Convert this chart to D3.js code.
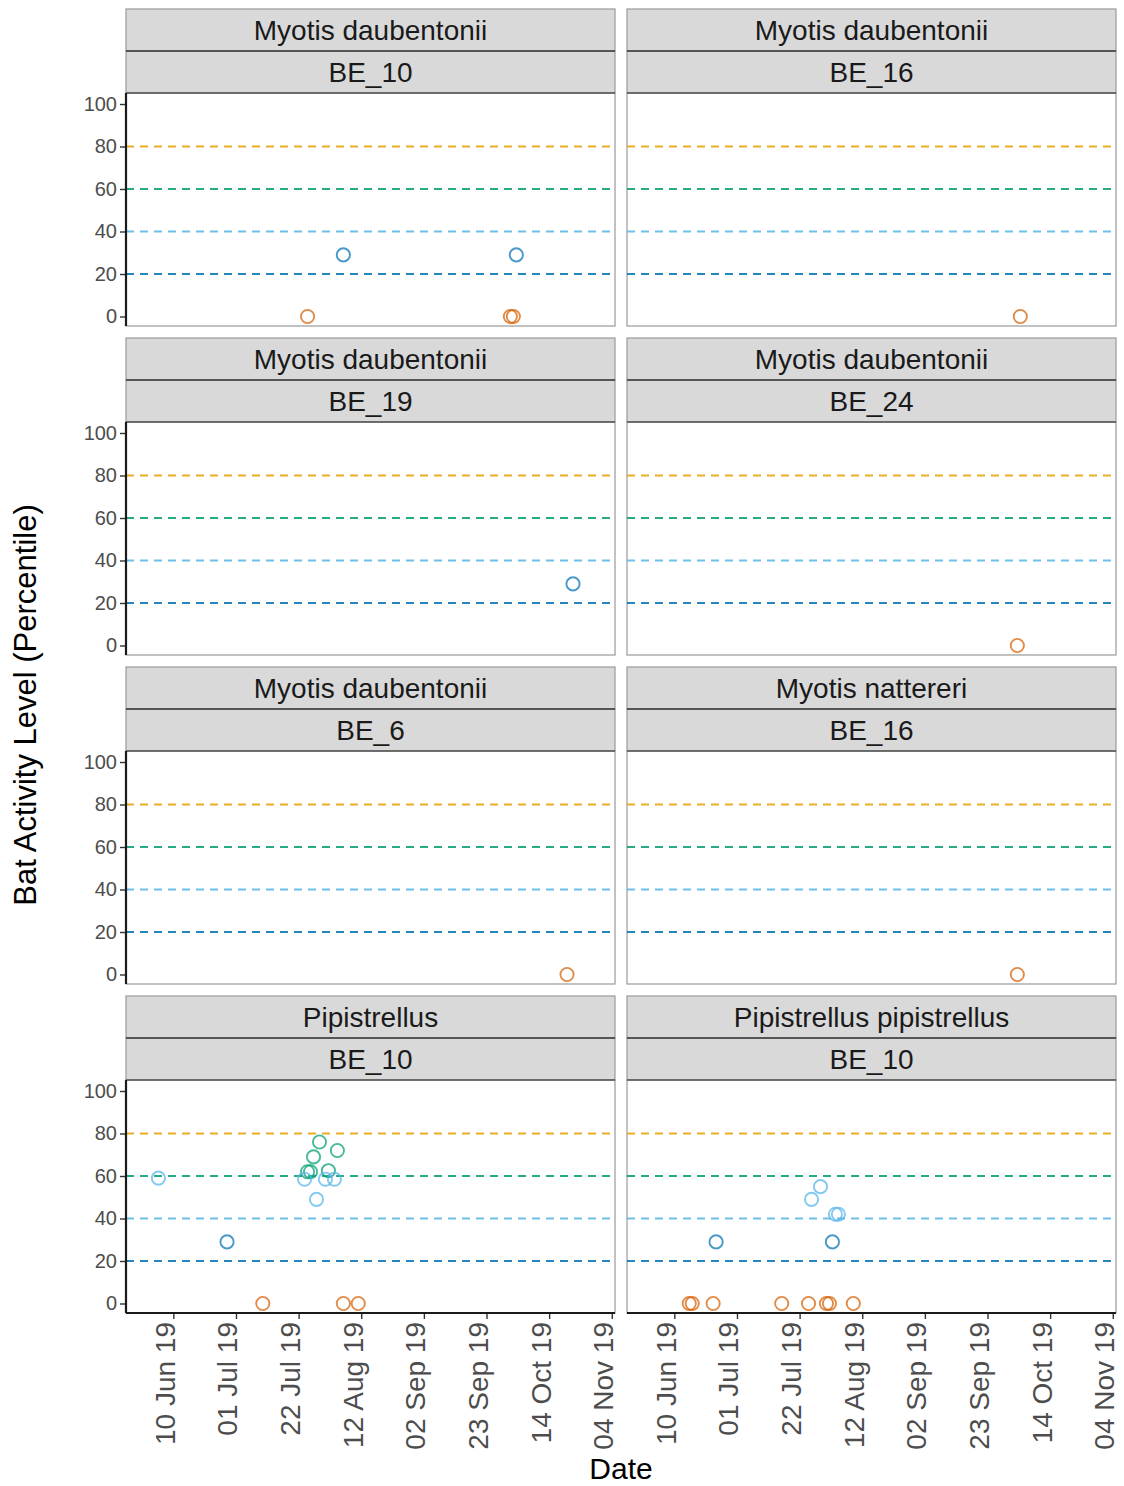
<!DOCTYPE html>
<html>
<head>
<meta charset="utf-8">
<script src="https://cdn.jsdelivr.net/npm/d3@7"></script>
<style>
  html, body { margin: 0; padding: 0; background: #fff; }
  svg { display: block; font-family: "Liberation Sans", Arial, sans-serif; }
</style>
</head>
<body>
<svg id="chart" width="1124" height="1486"></svg>
<script>
// ---------- data ----------
const panelSpecies = ["Myotis daubentonii", "Myotis daubentonii", "Myotis daubentonii", "Myotis daubentonii",
                      "Myotis daubentonii", "Myotis nattereri", "Pipistrellus", "Pipistrellus pipistrellus"];
const panelSites = ["BE_10", "BE_16", "BE_19", "BE_24", "BE_6", "BE_16", "BE_10", "BE_10"];

// points: panel index, date, activity percentile
const ptPanel = [0, 0, 0, 0, 0,
                 1,
                 2,
                 3,
                 4,
                 5,
                 6, 6, 6, 6, 6, 6, 6, 6, 6, 6, 6, 6, 6, 6, 6,
                 7, 7, 7, 7, 7, 7, 7, 7, 7, 7, 7, 7, 7, 7];
const ptDate = ["2019-07-25", "2019-08-06", "2019-10-01", "2019-10-02", "2019-10-03",
                "2019-10-04",
                "2019-10-22",
                "2019-10-03",
                "2019-10-20",
                "2019-10-03",
                "2019-06-05", "2019-06-28", "2019-07-10", "2019-08-06", "2019-08-11",
                "2019-07-29", "2019-08-04", "2019-07-27", "2019-07-25", "2019-07-26", "2019-08-01",
                "2019-07-24", "2019-07-31", "2019-08-03", "2019-07-28",
                "2019-06-15", "2019-06-16", "2019-06-23", "2019-07-16", "2019-07-25", "2019-07-31",
                "2019-08-01", "2019-08-09", "2019-06-24", "2019-08-02", "2019-07-29", "2019-07-26",
                "2019-08-03", "2019-08-04"];
const ptValue = [0, 29, 0, 0, 29,
                 0,
                 29,
                 0,
                 0,
                 0,
                 59, 29, 0, 0, 0,
                 76, 72, 69, 62, 62, 62.5,
                 58.5, 58.5, 58.5, 49,
                 0, 0, 0, 0, 0, 0,
                 0, 0, 29, 29, 55, 49,
                 42, 42];

const thresholdValues = [20, 40, 60, 80];
const thresholdColors = ["#0072B2", "#56B4E9", "#009E73", "#E69F00"];
const levelColors = ["#D55E00", "#0072B2", "#56B4E9", "#009E73", "#E69F00"];
const yTicks = [0, 20, 40, 60, 80, 100];
const xTicks = ["2019-06-10", "2019-07-01", "2019-07-22", "2019-08-12", "2019-09-02",
                "2019-09-23", "2019-10-14", "2019-11-04"];
const xDomain = ["2019-05-25T03:00", "2019-11-05T02:00"];

// ---------- layout ----------
const svg = d3.select("#chart");
const colLeft = [126, 627];
const panelW = 489;
const rowTop0 = 9, rowStep = 329, stripH = 42, panelH = 233;

const parseDay = d3.utcParse("%Y-%m-%d");
const parseDT = d3.utcParse("%Y-%m-%dT%H:%M");
const fmt = d3.utcFormat("%d %b %y");
const levelScale = d3.scaleThreshold().domain([20, 40, 60, 80]).range(levelColors);

const points = ptPanel.map((p, i) => ({ p, date: parseDay(ptDate[i]), v: ptValue[i] }));

panelSpecies.forEach((sp, idx) => {
  const col = idx % 2, row = Math.floor(idx / 2);
  const x0 = colLeft[col];
  const top = rowTop0 + row * rowStep;
  const pt = top + 2 * stripH, pb = pt + panelH;

  const x = d3.scaleUtc().domain(xDomain.map(parseDT)).range([x0, x0 + panelW]);
  const y = d3.scaleLinear().domain([0, 100]).range([pb - 9.5, pt + 11]);

  const g = svg.append("g");

  // strips
  [sp, panelSites[idx]].forEach((lab, k) => {
    const sy = top + k * stripH;
    g.append("rect").attr("x", x0).attr("y", sy).attr("width", panelW).attr("height", stripH)
      .attr("fill", "#d9d9d9").attr("stroke", "#9a9a9a").attr("stroke-width", 1.2);
    g.append("text").attr("x", x0 + panelW / 2).attr("y", sy + stripH / 2 + 10)
      .attr("text-anchor", "middle").attr("font-size", 28).attr("fill", "#1a1a1a").text(lab);
  });
  g.append("line").attr("x1", x0).attr("x2", x0 + panelW)
    .attr("y1", top + stripH).attr("y2", top + stripH)
    .attr("stroke", "#555").attr("stroke-width", 2);

  // panel background & border
  g.append("rect").attr("x", x0).attr("y", pt).attr("width", panelW).attr("height", panelH)
    .attr("fill", "#fff").attr("stroke", "#9a9a9a").attr("stroke-width", 1.2);
  g.append("line").attr("x1", x0).attr("x2", x0 + panelW).attr("y1", pt).attr("y2", pt)
    .attr("stroke", "#555").attr("stroke-width", 1.6);

  // threshold lines
  thresholdValues.forEach((t, k) => {
    g.append("line").attr("x1", x0).attr("x2", x0 + panelW)
      .attr("y1", y(t)).attr("y2", y(t))
      .attr("stroke", thresholdColors[k]).attr("stroke-width", 2.1)
      .attr("stroke-dasharray", "8,6").attr("opacity", 0.85);
  });

  // points
  g.selectAll("circle.pt").data(points.filter(d => d.p === idx)).join("circle")
    .attr("class", "pt")
    .attr("cx", d => x(d.date)).attr("cy", d => y(d.v)).attr("r", 6.6)
    .attr("fill", "none").attr("stroke", d => levelScale(d.v))
    .attr("stroke-width", 1.9).attr("stroke-opacity", 0.72);

  // y axis (left column)
  if (col === 0) {
    const ya = g.append("g").attr("transform", `translate(${x0},0)`)
      .call(d3.axisLeft(y).tickValues(yTicks).tickSize(6).tickPadding(3));
    ya.select(".domain").remove();
    ya.selectAll(".tick line").attr("stroke", "#333").attr("stroke-width", 1.4);
    ya.selectAll(".tick text").attr("font-size", 20).attr("fill", "#4d4d4d")
      .attr("font-family", "Liberation Sans, Arial, sans-serif");
    g.append("line").attr("x1", x0).attr("x2", x0).attr("y1", pt).attr("y2", pb)
      .attr("stroke", "#1a1a1a").attr("stroke-width", 2.2);
  }

  // x axis (bottom row)
  if (row === 3) {
    const xa = g.append("g").attr("transform", `translate(0,${pb})`)
      .call(d3.axisBottom(x).tickValues(xTicks.map(parseDay)).tickFormat(fmt).tickSize(6).tickPadding(4));
    xa.select(".domain").remove();
    xa.selectAll(".tick line").attr("stroke", "#333").attr("stroke-width", 1.4);
    xa.selectAll(".tick text").attr("font-size", 28).attr("fill", "#4d4d4d")
      .attr("font-family", "Liberation Sans, Arial, sans-serif")
      .attr("text-anchor", "end").attr("dy", null)
      .attr("transform", "translate(1,9) rotate(-90)")
      .attr("x", 0).attr("y", 0);
    g.append("line").attr("x1", x0).attr("x2", x0 + panelW).attr("y1", pb).attr("y2", pb)
      .attr("stroke", "#1a1a1a").attr("stroke-width", 2.2);
  }
});

// axis titles
svg.append("text").attr("transform", "translate(36,705) rotate(-90)")
  .attr("text-anchor", "middle").attr("font-size", 31).attr("fill", "#000")
  .text("Bat Activity Level (Percentile)");
svg.append("text").attr("x", 621).attr("y", 1479)
  .attr("text-anchor", "middle").attr("font-size", 30).attr("fill", "#000")
  .text("Date");
</script>
</body>
</html>
